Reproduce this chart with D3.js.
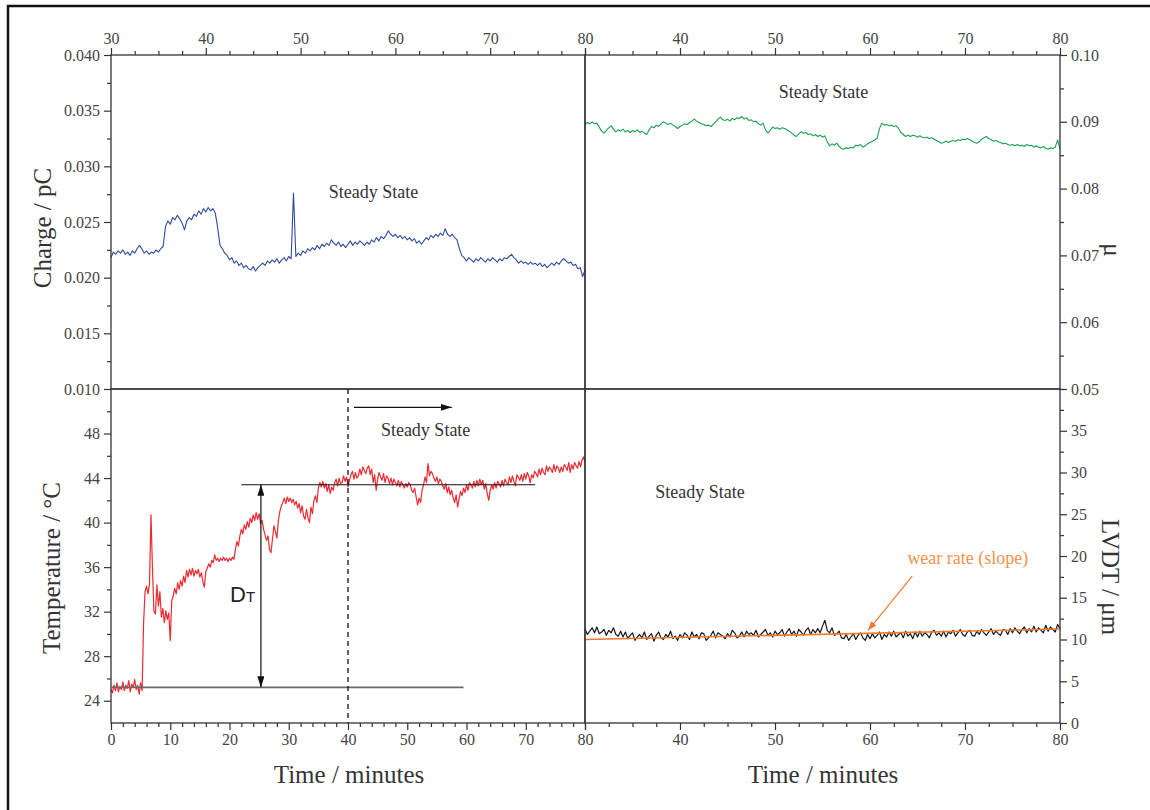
<!DOCTYPE html>
<html><head><meta charset="utf-8">
<script src="https://cdn.jsdelivr.net/npm/d3@7"></script>
<style>body{margin:0;background:#fff}svg{display:block}</style>
</head><body>
<svg id="chart" width="1150" height="810"></svg>
<script>
// ---------------- DATA ----------------
// Charge / pC, sampled evenly from chargeSpan[0] to chargeSpan[1] minutes
const chargeSpan = [30, 80];
const chargeValues = [
0.0218,0.0223,0.0221,0.0224,0.0222,0.0225,0.0221,0.0223,0.0220,0.0224,
0.0222,0.0226,0.0229,0.0226,0.0222,0.0224,0.0221,0.0223,0.0222,0.0225,
0.0223,0.0226,0.0228,0.0246,0.0251,0.0248,0.0254,0.0252,0.0256,0.0253,
0.0249,0.0243,0.0251,0.0254,0.0252,0.0257,0.0255,0.0260,0.0257,0.0262,
0.0259,0.0263,0.0260,0.0262,0.0258,0.0245,0.0229,0.0226,0.0222,0.0220,
0.0216,0.0218,0.0213,0.0215,0.0211,0.0213,0.0209,0.0211,0.0208,0.0207,
0.0210,0.0206,0.0209,0.0211,0.0213,0.0211,0.0215,0.0213,0.0216,0.0214,
0.0217,0.0213,0.0216,0.0218,0.0215,0.0219,0.0217,0.0276,0.0219,0.0222,
0.0220,0.0224,0.0222,0.0226,0.0224,0.0227,0.0225,0.0229,0.0226,0.0230,
0.0228,0.0231,0.0229,0.0234,0.0231,0.0229,0.0232,0.0228,0.0230,0.0227,
0.0230,0.0233,0.0229,0.0232,0.0230,0.0233,0.0231,0.0229,0.0232,0.0230,
0.0234,0.0232,0.0236,0.0233,0.0237,0.0235,0.0238,0.0242,0.0239,0.0237,
0.0239,0.0236,0.0238,0.0235,0.0237,0.0234,0.0236,0.0233,0.0235,0.0231,
0.0233,0.0230,0.0233,0.0236,0.0234,0.0238,0.0236,0.0239,0.0237,0.0240,
0.0238,0.0244,0.0239,0.0237,0.0239,0.0236,0.0234,0.0226,0.0220,0.0218,
0.0215,0.0218,0.0216,0.0214,0.0217,0.0215,0.0218,0.0216,0.0214,0.0217,
0.0215,0.0218,0.0216,0.0214,0.0217,0.0215,0.0218,0.0217,0.0219,0.0221,
0.0218,0.0216,0.0213,0.0215,0.0213,0.0214,0.0212,0.0214,0.0212,0.0213,
0.0211,0.0213,0.0210,0.0212,0.0209,0.0211,0.0213,0.0211,0.0214,0.0212,
0.0215,0.0217,0.0215,0.0213,0.0214,0.0211,0.0212,0.0208,0.0209,0.0201,
0.0207];

// Friction coefficient mu
const muSpan = [30, 80];
const muValues = [
0.0896,0.0899,0.0897,0.0900,0.0897,0.0898,0.0892,0.0886,0.0883,0.0887,
0.0891,0.0894,0.0889,0.0885,0.0888,0.0886,0.0889,0.0885,0.0887,0.0884,
0.0887,0.0885,0.0888,0.0884,0.0886,0.0883,0.0881,0.0888,0.0893,0.0891,
0.0895,0.0893,0.0897,0.0900,0.0898,0.0896,0.0898,0.0895,0.0893,0.0890,
0.0893,0.0895,0.0897,0.0896,0.0899,0.0901,0.0904,0.0901,0.0899,0.0897,
0.0896,0.0894,0.0895,0.0893,0.0896,0.0900,0.0904,0.0907,0.0903,0.0902,
0.0904,0.0901,0.0905,0.0903,0.0906,0.0905,0.0908,0.0904,0.0906,0.0902,
0.0903,0.0900,0.0901,0.0897,0.0895,0.0898,0.0888,0.0883,0.0887,0.0892,
0.0890,0.0891,0.0889,0.0891,0.0890,0.0888,0.0886,0.0883,0.0880,0.0878,
0.0882,0.0885,0.0883,0.0884,0.0881,0.0882,0.0879,0.0881,0.0878,0.0880,
0.0877,0.0879,0.0870,0.0864,0.0867,0.0865,0.0868,0.0863,0.0860,0.0859,
0.0861,0.0860,0.0862,0.0861,0.0865,0.0864,0.0866,0.0862,0.0864,0.0867,
0.0869,0.0871,0.0873,0.0875,0.0890,0.0898,0.0895,0.0896,0.0894,0.0895,
0.0893,0.0894,0.0890,0.0884,0.0881,0.0878,0.0880,0.0878,0.0880,0.0879,
0.0877,0.0879,0.0877,0.0876,0.0877,0.0875,0.0876,0.0874,0.0872,0.0870,
0.0868,0.0869,0.0871,0.0869,0.0871,0.0872,0.0871,0.0873,0.0872,0.0874,
0.0873,0.0875,0.0873,0.0871,0.0869,0.0868,0.0870,0.0874,0.0876,0.0878,
0.0875,0.0873,0.0871,0.0872,0.0870,0.0869,0.0867,0.0868,0.0866,0.0865,
0.0866,0.0864,0.0866,0.0864,0.0865,0.0863,0.0866,0.0864,0.0865,0.0862,
0.0864,0.0862,0.0861,0.0863,0.0860,0.0859,0.0861,0.0860,0.0862,0.0873,
0.0859];

// Temperature / °C
const tempSpan = [0, 80];
const tempValues = [
25.0,24.7,25.4,24.9,25.6,24.8,25.3,25.0,25.7,24.9,
25.4,25.1,25.8,24.8,25.5,25.2,25.9,25.0,25.4,24.6,
25.6,24.9,31.0,33.8,34.3,33.6,34.5,40.7,35.8,32.0,
31.8,34.4,32.5,33.8,31.5,32.3,31.0,32.1,31.3,31.9,
29.4,33.0,33.4,34.1,33.6,34.6,34.0,34.8,34.3,35.2,
34.6,35.7,35.1,35.8,35.3,35.9,35.2,35.7,35.4,35.8,
35.1,35.5,34.7,34.2,35.6,35.9,36.3,36.0,36.6,36.4,
37.1,36.6,36.8,36.5,36.8,36.6,36.9,36.6,36.8,36.5,
36.8,36.6,36.9,36.7,37.6,38.3,37.9,38.8,39.4,39.0,
39.8,39.4,40.1,39.6,40.4,40.0,40.7,40.2,40.9,40.3,
40.8,39.9,40.2,39.4,38.9,38.4,38.8,37.6,37.3,38.5,
39.7,39.2,38.6,40.2,41.0,41.5,41.8,42.2,41.7,42.3,
41.9,42.2,41.8,42.1,41.6,41.9,41.3,41.7,40.9,41.5,
40.6,40.3,41.2,40.4,40.0,41.4,40.8,42.0,42.4,41.8,
43.1,43.6,43.2,43.7,43.1,43.5,42.8,43.4,42.6,43.2,
42.9,43.6,43.9,43.3,44.0,43.5,43.6,44.2,43.7,44.1,
43.2,43.8,44.3,44.6,43.9,44.5,44.0,44.2,44.8,44.3,
45.0,44.7,44.4,44.9,45.1,44.3,44.8,43.6,44.3,42.9,
43.9,44.5,44.1,43.8,44.4,43.6,44.2,44.0,43.5,44.0,
43.4,43.9,43.6,43.3,43.8,43.2,43.7,43.4,43.1,43.5,
43.2,43.6,43.4,42.9,42.7,43.1,42.3,41.6,42.2,41.8,
42.9,43.4,44.1,43.6,45.3,44.2,44.6,44.4,44.0,43.7,
44.1,43.5,43.9,43.7,43.3,43.0,43.5,42.7,43.2,42.5,
42.9,42.2,41.8,42.5,41.4,42.1,42.8,42.4,43.1,42.7,
43.4,42.9,43.6,43.4,43.1,43.7,43.2,43.8,43.3,43.9,
43.4,43.8,43.0,43.5,42.6,42.0,42.9,43.4,43.0,43.6,
43.1,43.7,43.5,43.2,43.8,43.3,43.9,43.6,43.4,44.1,
43.6,44.2,43.7,43.3,44.3,44.1,43.8,44.3,43.7,44.4,
43.9,44.5,44.2,43.6,44.3,44.0,44.6,44.4,44.1,44.8,
44.3,44.9,44.5,44.3,45.1,44.6,45.0,44.8,44.5,45.2,
44.6,45.1,44.9,44.5,45.0,44.6,45.2,45.0,44.7,45.4,
44.5,45.2,44.8,45.4,45.1,44.9,45.5,45.0,45.6,45.9,
45.4];

// LVDT / µm
const lvdtSpan = [30, 80];
const lvdtValues = [
11.3,10.6,11.0,11.4,10.8,11.5,10.7,10.9,11.2,10.5,
11.1,10.8,11.4,10.6,10.4,11.0,10.3,10.9,10.1,10.5,
10.8,9.9,10.3,10.6,10.2,10.9,10.0,10.4,10.7,9.8,
10.5,10.9,10.2,10.0,10.6,10.3,11.0,10.1,10.4,9.9,
10.6,10.2,10.8,10.5,10.0,10.9,10.3,10.6,10.1,10.8,
10.7,9.9,10.2,10.5,11.0,10.2,10.8,10.6,10.4,10.1,
10.7,10.3,11.1,10.8,10.2,10.4,10.9,10.3,11.0,10.6,
10.8,10.5,11.1,10.3,10.6,10.9,11.2,10.5,10.8,10.3,
11.0,10.6,10.8,11.2,10.4,10.9,11.3,10.6,11.0,10.4,
11.2,10.9,10.5,11.1,11.4,10.6,11.2,10.8,11.3,10.8,
11.6,12.3,11.1,10.8,11.4,10.5,10.7,11.0,10.2,10.1,
10.6,9.9,10.3,10.7,10.0,10.5,10.8,10.2,9.9,10.6,
10.1,10.7,10.2,10.5,10.9,10.0,10.6,10.3,10.9,10.4,
11.0,10.3,10.6,10.8,10.2,11.0,10.4,10.7,10.1,10.9,
10.3,11.0,10.4,10.8,10.6,10.2,10.9,11.1,10.5,10.8,
10.4,11.0,10.3,10.9,10.7,11.1,10.4,10.8,11.2,10.6,
10.4,10.9,11.1,10.5,10.4,11.0,10.6,11.2,10.8,10.5,
10.9,11.3,10.6,11.0,10.7,10.5,11.2,11.1,10.6,11.3,
10.8,11.4,11.0,10.7,11.2,11.5,10.8,11.3,10.9,11.6,
10.9,11.4,11.1,10.8,11.7,11.0,11.5,11.2,10.9,11.8,
11.3];

// Wear-rate linear fit (time, LVDT)
const fitTimes = [30, 80];
const fitValues = [10.0, 11.25];

// Tick values
const chargeTicks = [0.010,0.015,0.020,0.025,0.030,0.035,0.040];
const muTicks = [0.05,0.06,0.07,0.08,0.09,0.10];
const tempTicks = [24,28,32,36,40,44,48];
const lvdtTicks = [0,5,10,15,20,25,30,35];
const timeTicksFull = [0,10,20,30,40,50,60,70,80];
const timeTicksHalf = [30,40,50,60,70,80];

// Annotations (data units)
const tempBaseline = {t0: 0, t1: 59.5, v: 25.2};
const tempPlateau = {t0: 22, t1: 71.6, v: 43.4};
const deltaArrowTime = 25.3;
const steadyStartTime = 40;
const steadyArrow = {t0: 41, t1: 57.5, v: 50.35};

// ---------------- DRAW ----------------
const svg = d3.select("#chart");
const serif = "'Liberation Serif','Times New Roman',serif";
const sans = "'Liberation Sans',Arial,sans-serif";
const P = {x0: 111, xm: 585, x1: 1060, y0: 55, ym: 389, y1: 723};

const xTL = d3.scaleLinear().domain([30, 80]).range([P.x0, P.xm]);
const xBL = d3.scaleLinear().domain([0, 80]).range([P.x0, P.xm]);
const xR  = d3.scaleLinear().domain([30, 80]).range([P.xm, P.x1]);
const yCharge = d3.scaleLinear().domain([0.010, 0.040]).range([P.ym, P.y0]);
const yMu = d3.scaleLinear().domain([0.05, 0.10]).range([P.ym, P.y0]);
const yTemp = d3.scaleLinear().domain([22, 52]).range([P.y1, P.ym]);
const yLvdt = d3.scaleLinear().domain([0, 40]).range([P.y1, P.ym]);

function series(span, values) {
  const n = values.length;
  return values.map((v, i) => ({t: span[0] + (span[1] - span[0]) * i / (n - 1), v}));
}

// outer frame
svg.append("rect").attr("x", 8).attr("y", 6).attr("width", 1300).attr("height", 900)
  .attr("fill", "none").attr("stroke", "#111").attr("stroke-width", 2.5);

const defs = svg.append("defs");
function marker(id, color, len, wid) {
  defs.append("marker").attr("id", id).attr("viewBox", `0 0 ${len} ${wid}`)
    .attr("refX", len).attr("refY", wid / 2).attr("markerWidth", len).attr("markerHeight", wid)
    .attr("markerUnits", "userSpaceOnUse").attr("orient", "auto-start-reverse")
    .append("path").attr("d", `M0,0 L${len},${wid / 2} L0,${wid} Z`).attr("fill", color);
}
marker("arrK", "#111", 11, 7);
marker("arrO", "#ee7a2a", 9, 7);

// data lines
function drawLine(data, x, y, color, w) {
  svg.append("path").datum(data).attr("fill", "none").attr("stroke", color)
    .attr("stroke-width", w).attr("stroke-linejoin", "round")
    .attr("d", d3.line().x(d => x(d.t)).y(d => y(d.v)));
}
drawLine(series(chargeSpan, chargeValues), xTL, yCharge, "#2d4c9e", 1.1);
drawLine(series(muSpan, muValues), xR, yMu, "#17a24d", 1.1);
drawLine(series(tempSpan, tempValues), xBL, yTemp, "#ec2a30", 1.2);
drawLine(series(lvdtSpan, lvdtValues), xR, yLvdt, "#161616", 1.2);
drawLine(fitTimes.map((t, i) => ({t, v: fitValues[i]})), xR, yLvdt, "#ee7a2a", 1.6);

// panel frames
[[P.x0, P.y0, P.xm, P.ym], [P.xm, P.y0, P.x1, P.ym], [P.x0, P.ym, P.xm, P.y1], [P.xm, P.ym, P.x1, P.y1]]
  .forEach(([a, b, c, d]) => svg.append("rect").attr("x", a).attr("y", b).attr("width", c - a).attr("height", d - b)
    .attr("fill", "none").attr("stroke", "#333").attr("stroke-width", 1.3));

// axes
function axis(gen, scale, major, minor, fmt, tx, ty) {
  const gm = svg.append("g").attr("transform", `translate(${tx},${ty})`)
    .call(gen(scale).tickValues(minor).tickSize(4).tickSizeOuter(0).tickFormat(""));
  const gM = svg.append("g").attr("transform", `translate(${tx},${ty})`)
    .call(gen(scale).tickValues(major).tickSize(7).tickSizeOuter(0).tickPadding(4).tickFormat(fmt));
  [gm, gM].forEach(g => {
    g.select(".domain").remove();
    g.selectAll("line").attr("stroke", "#333").attr("stroke-width", 1.2);
    g.selectAll("text").attr("font-family", serif).attr("font-size", 16).attr("fill", "#444");
  });
  return gM;
}
const minorOf = (lo, hi, step, majors) => d3.range(lo, hi + step / 2, step)
  .filter(v => !majors.some(m => Math.abs(m - v) < 1e-9));

axis(d3.axisTop, xTL, timeTicksHalf, minorOf(30, 80, 2.5, timeTicksHalf), d3.format("d"), 0, P.y0);
axis(d3.axisTop, xR, timeTicksHalf, minorOf(30, 80, 2.5, timeTicksHalf), d => d === 30 ? "" : d, 0, P.y0);
axis(d3.axisBottom, xBL, timeTicksFull, minorOf(0, 80, 2, timeTicksFull), d3.format("d"), 0, P.y1);
axis(d3.axisBottom, xR, timeTicksHalf, minorOf(30, 80, 2.5, timeTicksHalf), d => d === 30 ? "" : d, 0, P.y1);
axis(d3.axisLeft, yCharge, chargeTicks, minorOf(0.010, 0.040, 0.0025, chargeTicks), d3.format(".3f"), P.x0, 0);
axis(d3.axisLeft, yTemp, tempTicks, minorOf(26, 50, 4, []), d3.format("d"), P.x0, 0);
axis(d3.axisRight, yMu, muTicks, minorOf(0.05, 0.10, 0.005, muTicks), d3.format(".2f"), P.x1, 0);
axis(d3.axisRight, yLvdt, lvdtTicks, minorOf(0, 40, 2.5, lvdtTicks), d3.format("d"), P.x1, 0);

// axis titles
function title(txt, x, y, rot) {
  svg.append("text").attr("transform", `translate(${x},${y}) rotate(${rot})`)
    .attr("text-anchor", "middle").attr("font-family", serif).attr("font-size", 25)
    .attr("fill", "#333").text(txt);
}
title("Charge / pC", 51, 228, -90);
title("Temperature / °C", 60, 568, -90);
title("Time / minutes", 349, 783, 0);
title("Time / minutes", 823, 783, 0);
title("μ", 1104, 250, 90);
title("LVDT / μm", 1102, 577, 90);

// annotations
function label(txt, x, y, color, size) {
  svg.append("text").attr("x", x).attr("y", y).attr("text-anchor", "middle")
    .attr("font-family", serif).attr("font-size", size || 18).attr("fill", color || "#333").text(txt);
}
label("Steady State", xTL(57.7), yCharge(0.02716));
label("Steady State", xR(55.1), yMu(0.0936));
label("Steady State", xBL(53.1), yTemp(47.75));
label("Steady State", xR(42.1), yLvdt(27.0));
label("wear rate (slope)", xR(70.3), yLvdt(19.1), "#f3914a");

// wear-rate arrow
svg.append("line").attr("x1", xR(64.45)).attr("y1", yLvdt(17.6)).attr("x2", xR(59.8)).attr("y2", yLvdt(11.1))
  .attr("stroke", "#ee7a2a").attr("stroke-width", 1.2).attr("marker-end", "url(#arrO)");

// temperature annotations
svg.append("line").attr("x1", xBL(tempBaseline.t0)).attr("x2", xBL(tempBaseline.t1))
  .attr("y1", yTemp(tempBaseline.v)).attr("y2", yTemp(tempBaseline.v))
  .attr("stroke", "#6a6a6a").attr("stroke-width", 1.6);
svg.append("line").attr("x1", xBL(tempPlateau.t0)).attr("x2", xBL(tempPlateau.t1))
  .attr("y1", yTemp(tempPlateau.v)).attr("y2", yTemp(tempPlateau.v))
  .attr("stroke", "#111").attr("stroke-width", 1.2);
svg.append("line").attr("x1", xBL(deltaArrowTime)).attr("x2", xBL(deltaArrowTime))
  .attr("y1", yTemp(tempBaseline.v)).attr("y2", yTemp(tempPlateau.v))
  .attr("stroke", "#111").attr("stroke-width", 1.2)
  .attr("marker-start", "url(#arrK)").attr("marker-end", "url(#arrK)");
svg.append("line").attr("x1", xBL(steadyStartTime)).attr("x2", xBL(steadyStartTime))
  .attr("y1", P.ym).attr("y2", P.y1)
  .attr("stroke", "#111").attr("stroke-width", 1.3).attr("stroke-dasharray", "5,4");
svg.append("line").attr("x1", xBL(steadyArrow.t0)).attr("x2", xBL(steadyArrow.t1))
  .attr("y1", yTemp(steadyArrow.v)).attr("y2", yTemp(steadyArrow.v))
  .attr("stroke", "#111").attr("stroke-width", 1.2).attr("marker-end", "url(#arrK)");

const dt = svg.append("text").attr("x", xBL(20.1)).attr("y", yTemp(32.9))
  .attr("font-family", sans).attr("fill", "#222");
dt.append("tspan").attr("font-size", 22).text("D");
dt.append("tspan").attr("font-size", 15).text("T");
</script>
</body></html>
